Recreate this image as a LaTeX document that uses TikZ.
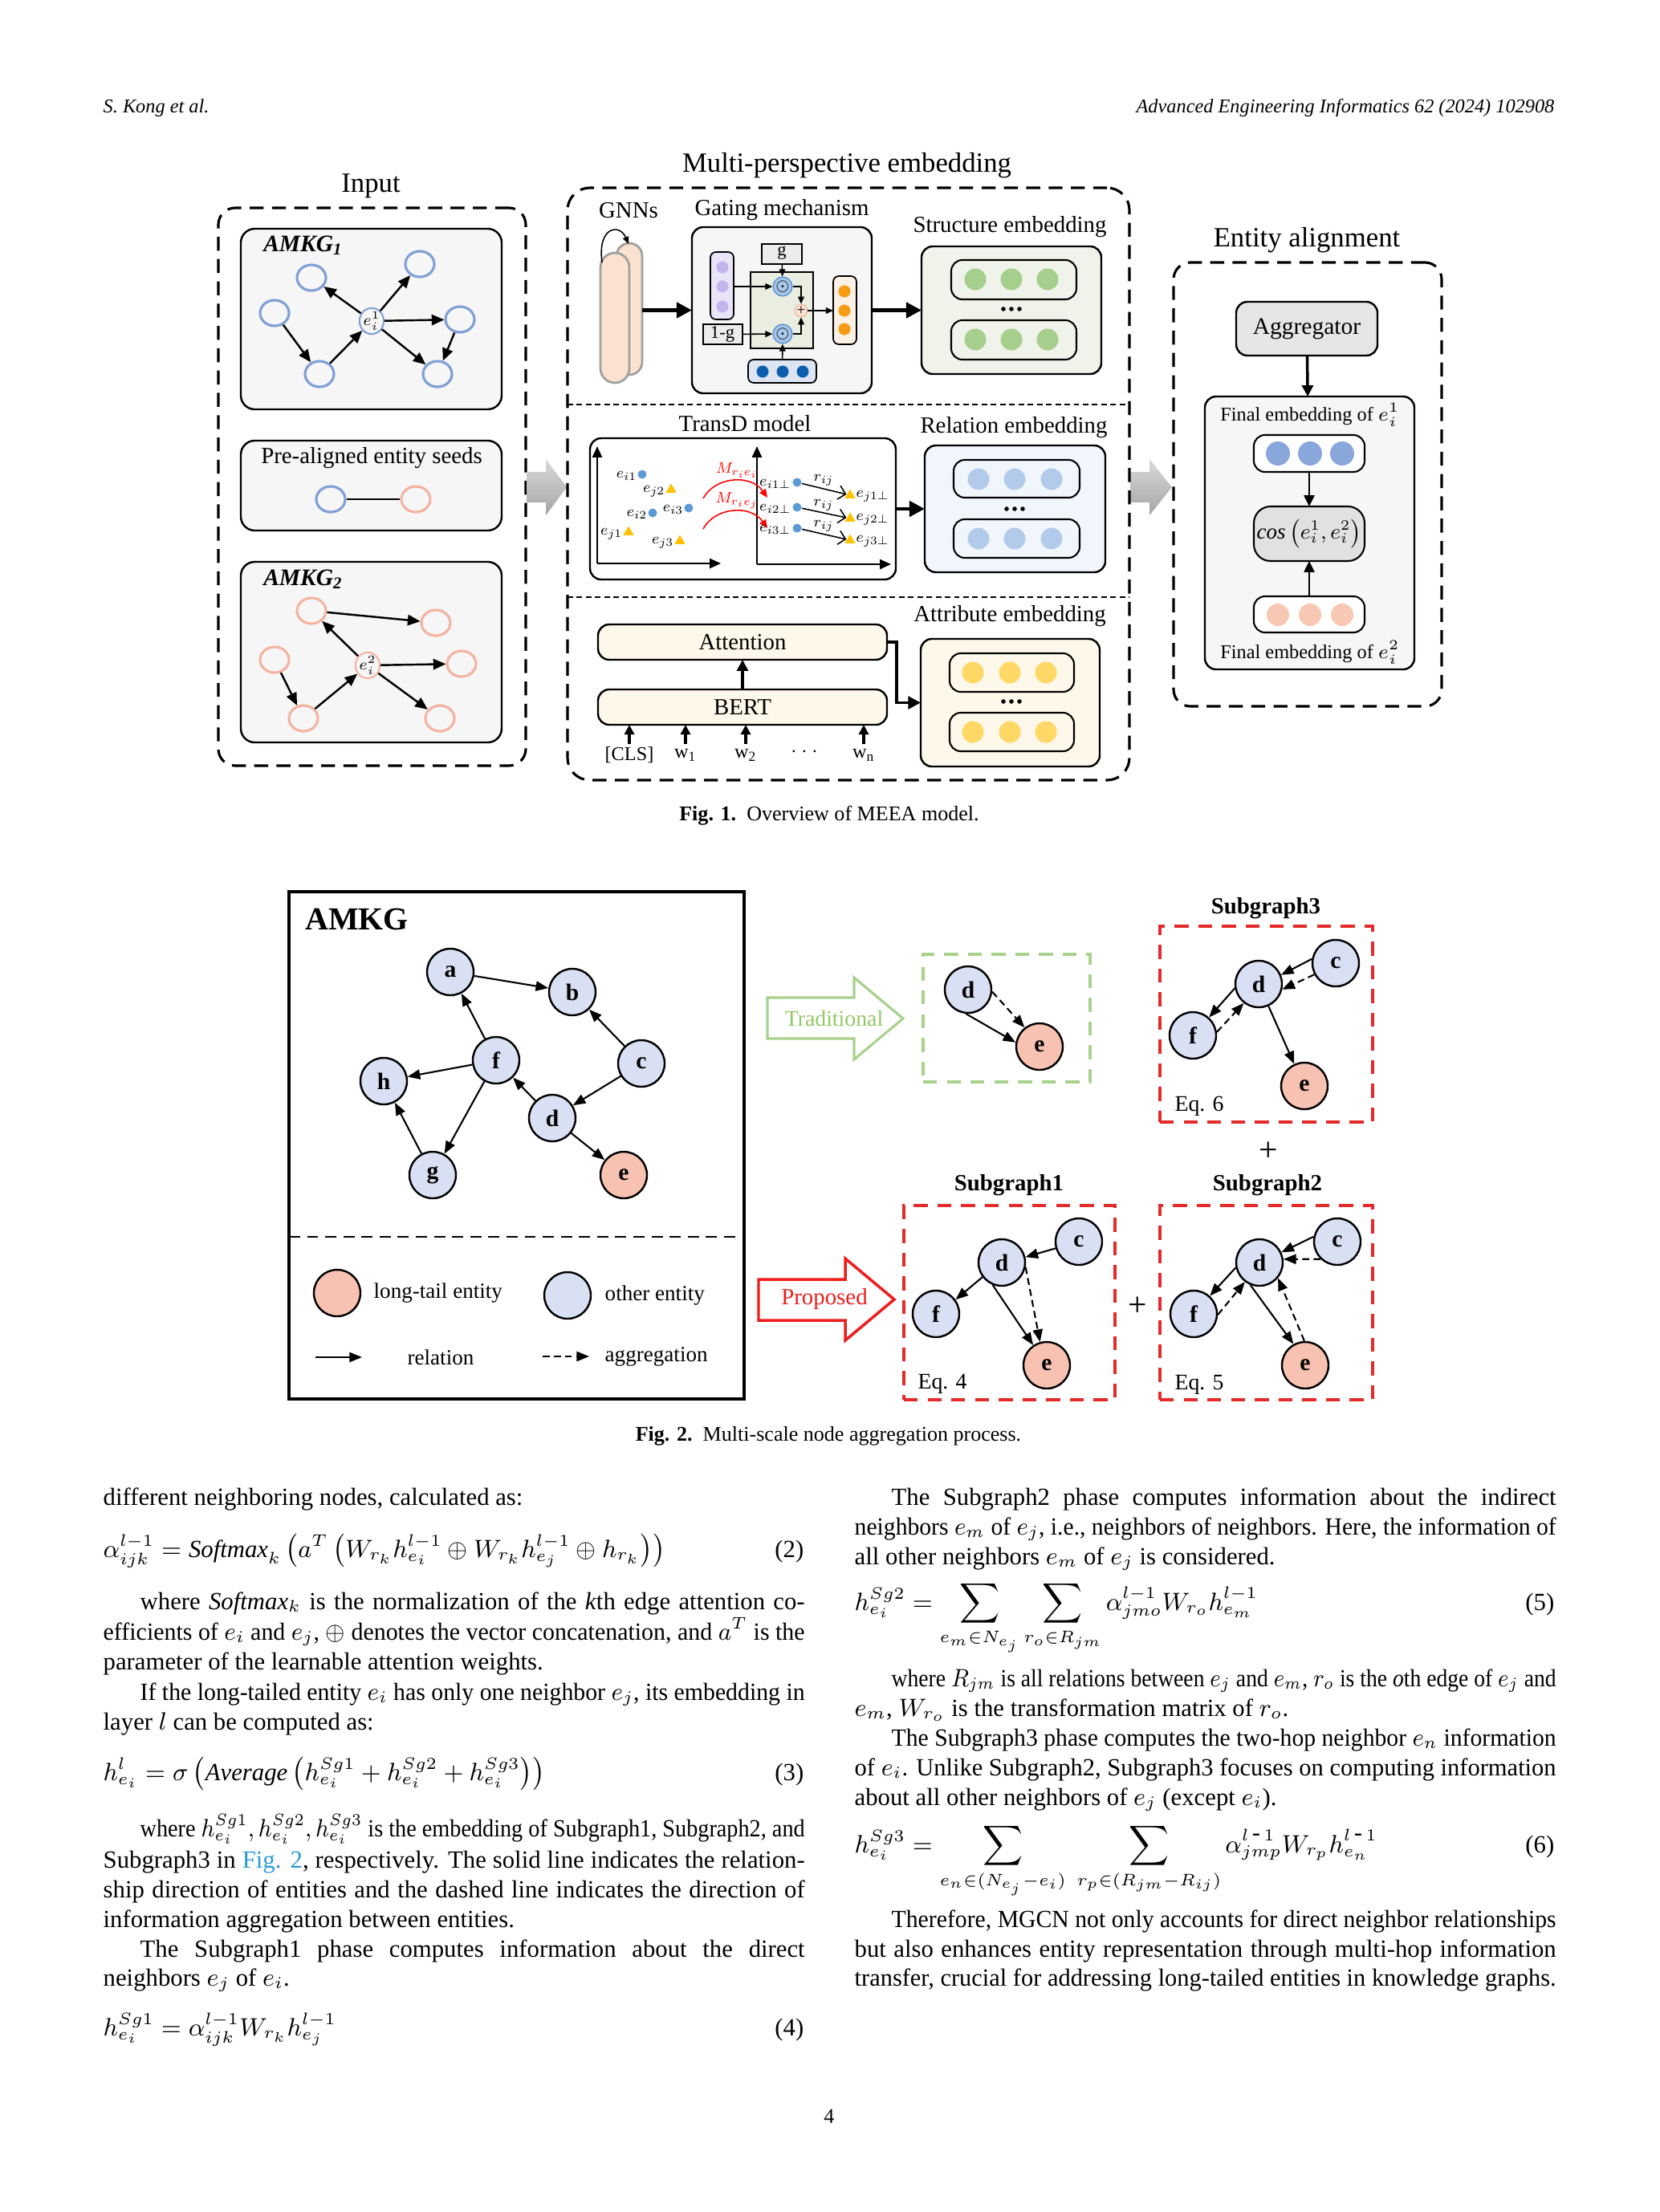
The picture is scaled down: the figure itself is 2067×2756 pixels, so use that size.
\documentclass[tikz,border=0pt]{standalone}
\usepackage{graphicx}
\usepackage{fontspec}
\setmainfont{Liberation Serif}
\usetikzlibrary{arrows.meta,shapes.geometric,fit,calc}
\newlength\px \setlength\px{0.28785pt}
\newlength\fullw \setlength\fullw{251.58pt}
\newlength\indw \setlength\indw{238.34pt}
\newcommand\bodyf{\fontsize{8.85}{10.7}\selectfont}
\newsavebox\jbox
\newcommand\jl[2]{\sbox\jbox{#2}\ifdim\wd\jbox>#1\resizebox{#1}{\height}{\usebox\jbox}\else\makebox[#1][s]{#2}\fi}
\newcommand\sm[1]{\scalebox{0.68}{#1}}
\definecolor{kgblue}{HTML}{7F9FD6}
\definecolor{kgpink}{HTML}{F4B3A1}
\definecolor{boxgray}{HTML}{F6F6F6}
\definecolor{peach}{HTML}{FBE2D0}
\definecolor{pillgray}{HTML}{A0A0A0}
\definecolor{lav}{HTML}{E9E4F7}
\definecolor{lavdot}{HTML}{C4B4EC}
\definecolor{ggray}{HTML}{ECECEC}
\definecolor{innergreen}{HTML}{E9EEE1}
\definecolor{odotfill}{HTML}{A7C7EA}
\definecolor{odotdraw}{HTML}{5B8FCF}
\definecolor{plusfill}{HTML}{FBE4D6}
\definecolor{plusdraw}{HTML}{F2B9A0}
\definecolor{bvecfill}{HTML}{DCE5F1}
\definecolor{bvecdot}{HTML}{0C5DAE}
\definecolor{ovecfill}{HTML}{FDF0E4}
\definecolor{ovecdot}{HTML}{F59B14}
\definecolor{structfill}{HTML}{EFF3EA}
\definecolor{greendot}{HTML}{A6CE8C}
\definecolor{relfill}{HTML}{F1F6FC}
\definecolor{reldot}{HTML}{B3CBEA}
\definecolor{attfill}{HTML}{FDF8E9}
\definecolor{yellowdot}{HTML}{FFD865}
\definecolor{transblue}{HTML}{5B9BD5}
\definecolor{transyel}{HTML}{FFC000}
\definecolor{aggfill}{HTML}{E6E6E6}
\definecolor{cosfill}{HTML}{E1E1E1}
\definecolor{finblue}{HTML}{8AA7DC}
\definecolor{finpink}{HTML}{F7C8B3}
\definecolor{nodeblue}{HTML}{D9E0F3}
\definecolor{nodepink}{HTML}{F8C2B2}
\definecolor{tradgreen}{HTML}{A9D18E}
\definecolor{tradtext}{HTML}{92C867}
\definecolor{propred}{HTML}{EE1C1C}
\definecolor{sgred}{HTML}{E52A2A}
\definecolor{linkblue}{HTML}{2A9BD8}
\tikzset{
  fitbox/.style={inner sep=0pt, outer sep=0pt},
  rbox/.style={fitbox, draw=black, line width=0.7pt, rounded corners=4pt},
  dashfr/.style={fitbox, draw=black, line width=0.9pt, dash pattern=on 5pt off 3pt, rounded corners=6pt},
  sepline/.style={line width=0.5pt, dash pattern=on 2pt off 1.3pt},
  arr/.style={-{Triangle[length=4.5pt,width=3.8pt]}, line width=0.7pt},
  bigarr/.style={-{Triangle[length=5.5pt,width=5.5pt]}, line width=1.3pt},
  midarr/.style={-{Triangle[length=4pt,width=4pt]}, line width=1pt},
  tarr/.style={-{Triangle[length=2.6pt,width=2.2pt]}, line width=0.45pt},
  kgb/.style={ellipse, draw=kgblue, line width=0.9pt, minimum width=36*\px, minimum height=32*\px, inner sep=0pt},
  kgp/.style={kgb, draw=kgpink},
  vdot/.style={circle, inner sep=0pt, minimum size=15*\px},
  edot/.style={circle, inner sep=0pt, minimum size=27*\px},
  title/.style={font=\fontsize{10}{12}\selectfont},
  sub/.style={font=\fontsize{8.3}{10}\selectfont},
  fn/.style={circle, draw=black, line width=0.7pt, fill=nodeblue, minimum size=58*\px, inner sep=0pt, font=\fontsize{8.5}{9}\selectfont\bfseries},
  fnp/.style={fn, fill=nodepink},
  farr/.style={-{Triangle[length=4.5pt,width=3.5pt]}, line width=0.6pt},
  fdash/.style={farr, dash pattern=on 2.5pt off 1.5pt},
  sgbox/.style={fitbox, draw=sgred, line width=1pt, dash pattern=on 5pt off 3.5pt},
  body/.style={anchor=base west, inner sep=0pt, font=\bodyf},
  eqn/.style={anchor=base east, inner sep=0pt, font=\bodyf},
  intext/.style={inner sep=0pt},
}
\newcommand\dotsrow[2]{\foreach \dx in {-10,0,10}{\fill ({#1+\dx},#2) circle[radius=0.8pt];}}
\begin{document}
\begin{tikzpicture}[x=0.28785pt,y=-0.28785pt]
\fill[white] (0,0) rectangle (2067,2756);
\useasboundingbox (0,0) rectangle (2067,2756);

% ---------- header ----------
\node[anchor=base west, inner sep=0pt, font=\fontsize{7}{8}\selectfont\itshape] (hl) at (128,140) {S. Kong et al.};
\node[anchor=base east, inner sep=0pt, font=\fontsize{7}{8}\selectfont\itshape] (hr) at (1937,140) {Advanced Engineering Informatics 62 (2024) 102908};

% ---------- Fig 1: Input ----------
\node[title] (tin) at (462,232) {Input};
\node[dashfr, fit={(272,259) (655,954)}] (inbox) {};
\node[rbox, fill=boxgray, rounded corners=5pt, fit={(300,285) (625,510)}] (kg1box) {};
\node[anchor=west, font=\fontsize{8.5}{10}\selectfont\bfseries\itshape] (kg1lab) at (316,306) {AMKG\textsubscript{1}};
\node[kgb] (a1) at (388,346) {};
\node[kgb] (a2) at (342,390) {};
\node[kgb] (a3) at (398,466) {};
\node[kgb, line width=0.6pt, minimum width=30*\px, minimum height=28*\px, font=\fontsize{7}{7}\selectfont] (ae) at (463,400) {\scalebox{0.8}{$e_i^1$}};
\node[kgb] (a4) at (523,329) {};
\node[kgb] (a5) at (573,398) {};
\node[kgb] (a6) at (545,466) {};
\draw[arr] (ae) -- (a1);
\draw[arr] (a2) -- (a3);
\draw[arr] (a3) -- (ae);
\draw[arr] (ae) -- (a4);
\draw[arr] (ae) -- (a5);
\draw[arr] (ae) -- (a6);
\draw[arr] (a5) -- (a6);

\node[rbox, fill=boxgray, rounded corners=5pt, fit={(300,549) (625,661)}] (pabox) {};
\node[sub] (patxt) at (463,571) {Pre-aligned entity seeds};
\node[kgb] (pa) at (412,622) {};
\node[kgp] (pb) at (518,622) {};
\draw[line width=0.7pt] (pa) -- (pb);

\node[rbox, fill=boxgray, rounded corners=5pt, fit={(300,700) (625,925)}] (kg2box) {};
\node[anchor=west, font=\fontsize{8.5}{10}\selectfont\bfseries\itshape] (kg2lab) at (316,722) {AMKG\textsubscript{2}};
\node[kgp] (b1) at (388,761) {};
\node[kgp] (b2) at (543,776) {};
\node[kgp] (b3) at (342,822) {};
\node[kgp, line width=0.6pt, minimum width=30*\px, minimum height=28*\px, font=\fontsize{7}{7}\selectfont] (be) at (458,829) {\scalebox{0.8}{$e_i^2$}};
\node[kgp] (b4) at (575,827) {};
\node[kgp] (b5) at (378,895) {};
\node[kgp] (b6) at (548,895) {};
\draw[arr] (b1) -- (b2);
\draw[arr] (be) -- (b1);
\draw[arr] (b3) -- (b5);
\draw[arr] (b5) -- (be);
\draw[arr] (be) -- (b4);
\draw[arr] (be) -- (b6);

% gray block arrows
\shade[top color=gray!30, bottom color=gray!70] (656,588) -- (680,588) -- (680,572) -- (706,607) -- (680,642) -- (680,626) -- (656,626) -- cycle;
\shade[top color=gray!30, bottom color=gray!70] (1408,588) -- (1432,588) -- (1432,572) -- (1460,607) -- (1432,642) -- (1432,626) -- (1408,626) -- cycle;

% ---------- Fig 1: Multi-perspective ----------
\node[title] (tmp) at (1055,206) {Multi-perspective embedding};
\node[dashfr, rounded corners=8pt, fit={(707,234) (1407,972)}] (mpbox) {};
\coordinate (s1l) at (707,504); \coordinate (s1r) at (1407,504);
\coordinate (s2l) at (707,744); \coordinate (s2r) at (1407,744);
\draw[sepline] (s1l) -- (s1r);
\draw[sepline] (s2l) -- (s2r);

\node[sub] (tgnn) at (783,262) {GNNs};
\node[sub] (tgate) at (974,262) {Gating mechanism};
\node[sub] (tstr) at (1258,283) {Structure embedding};

\node[fitbox, draw=pillgray, fill=peach, line width=0.8pt, rounded corners=4.6pt, fit={(768,303) (800,467)}] (pill2) {};
\node[fitbox, draw=pillgray, fill=peach, line width=0.8pt, rounded corners=5.2pt, fit={(748,315) (784,477)}] (pill1) {};
\coordinate (gl1) at (750,327); \coordinate (gl2) at (783,304);
\draw[tarr] (gl1) .. controls (744,282) and (772,278) .. (gl2);

\node[rbox, fill=boxgray, rounded corners=4pt, fit={(862,283) (1086,490)}] (gate) {};
\draw[bigarr] (pill2.east |- gate.west) -- (gate.west);
\node[fitbox, draw=black, line width=0.5pt, fill=lav, rounded corners=2pt, fit={(885,314) (914,398)}] (pvec) {};
\node[vdot, fill=lavdot] (pv1) at (900,333) {};
\node[vdot, fill=lavdot] (pv2) at (900,357) {};
\node[vdot, fill=lavdot] (pv3) at (900,382) {};
\node[fitbox, draw=black, line width=0.5pt, fill=ggray, fit={(949,304) (999,329)}] (gbox) {};
\node[intext, font=\fontsize{6.5}{7}\selectfont] at (974,315) {g};
\node[fitbox, draw=black, line width=0.4pt, fill=innergreen, fit={(935,339) (1013,434)}] (inner) {};
\node[fitbox, draw=black, line width=0.5pt, fill=ggray, fit={(876,404) (925,429)}] (omg) {};
\node[intext, font=\fontsize{6.5}{7}\selectfont] at (900,416) {1-g};
\node[circle, draw=odotdraw, fill=odotfill, line width=0.4pt, minimum size=12*\px, inner sep=0pt, font=\fontsize{5}{5}\selectfont] (od1) at (975,357) {$\odot$};
\node[circle, draw=odotdraw, fill=odotfill, line width=0.4pt, minimum size=12*\px, inner sep=0pt, font=\fontsize{5}{5}\selectfont] (od2) at (975,416) {$\odot$};
\node[circle, draw=plusdraw, fill=plusfill, line width=0.4pt, minimum size=13*\px, inner sep=0pt, font=\fontsize{5.5}{5}\selectfont] (plus) at (998,387) {+};
\node[fitbox, draw=black, line width=0.5pt, fill=bvecfill, rounded corners=2pt, fit={(932,448) (1017,477)}] (bvec) {};
\node[vdot, fill=bvecdot] (bv1) at (950,463) {};
\node[vdot, fill=bvecdot] (bv2) at (975,463) {};
\node[vdot, fill=bvecdot] (bv3) at (1000,463) {};
\node[fitbox, draw=black, line width=0.5pt, fill=ovecfill, rounded corners=2pt, fit={(1038,344) (1067,429)}] (ovec) {};
\node[vdot, fill=ovecdot] (ov1) at (1052,363) {};
\node[vdot, fill=ovecdot] (ov2) at (1052,387) {};
\node[vdot, fill=ovecdot] (ov3) at (1052,410) {};
\draw[tarr] (pvec.east |- od1) -- (od1);
\draw[tarr] (gbox) -- (od1);
\draw[tarr] (od1) -| (plus);
\draw[tarr] (omg) -- (od2);
\draw[tarr] (bvec) -- (od2);
\draw[tarr] (od2) -| (plus);
\draw[tarr] (plus) -- (ovec.west |- plus);

\node[rbox, fill=structfill, rounded corners=4pt, fit={(1148,307) (1372,466)}] (str) {};
\draw[bigarr] (gate.east) -- (str.west);
\node[rbox, fill=structfill, rounded corners=4pt, line width=0.6pt, fit={(1185,324) (1341,373)}] (str1) {};
\node[rbox, fill=structfill, rounded corners=4pt, line width=0.6pt, fit={(1185,399) (1341,448)}] (str2) {};
\foreach \cx in {1215,1260,1305}{
  \node[edot, fill=greendot] at (\cx,348) {};
  \node[edot, fill=greendot] at (\cx,423) {};
}
\dotsrow{1260}{385}

% TransD
\node[sub] (ttd) at (928,528) {TransD model};
\node[sub] (trel) at (1263,533) {Relation embedding};
\node[rbox, fill=white, rounded corners=4pt, fit={(735,546) (1116,722)}] (td) {};
\coordinate (O1) at (744,702); \coordinate (Y1) at (744,556); \coordinate (X1) at (898,702);
\coordinate (O2) at (943,703); \coordinate (Y2) at (943,556); \coordinate (X2) at (1110,703);
\draw[-{Triangle[length=4pt,width=3.5pt]}, line width=0.6pt] (O1) -- (Y1);
\draw[-{Triangle[length=4pt,width=3.5pt]}, line width=0.6pt] (O1) -- (X1);
\draw[-{Triangle[length=4pt,width=3.5pt]}, line width=0.6pt] (O2) -- (Y2);
\draw[-{Triangle[length=4pt,width=3.5pt]}, line width=0.6pt] (O2) -- (X2);
\tikzset{bd/.style={circle, fill=transblue, inner sep=0pt, minimum size=11*\px},
         yt/.style={regular polygon, regular polygon sides=3, fill=transyel, inner sep=0pt, minimum size=15*\px},
         tl/.style={inner sep=0pt, font=\fontsize{8}{8}\selectfont}}
\node[bd] (li1) at (800,591) {}; \node[tl, anchor=east] at (794,593) {\sm{$e_{i1}$}};
\node[yt] (lj2) at (836,610) {}; \node[tl, anchor=east] at (829,612) {\sm{$e_{j2}$}};
\node[bd] (li2) at (813,639) {}; \node[tl, anchor=east] at (807,641) {\sm{$e_{i2}$}};
\node[bd] (li3) at (858,633) {}; \node[tl, anchor=east] at (852,635) {\sm{$e_{i3}$}};
\node[yt] (lj1) at (783,663) {}; \node[tl, anchor=east] at (776,665) {\sm{$e_{j1}$}};
\node[yt] (lj3) at (847,674) {}; \node[tl, anchor=east] at (840,676) {\sm{$e_{j3}$}};
\coordinate (m1a) at (876,621); \coordinate (m1b) at (956,620);
\coordinate (m2a) at (876,659); \coordinate (m2b) at (956,658);
\draw[red, line width=0.45pt, -{Triangle[length=3pt,width=2.6pt]}] (m1a) .. controls (890,594) and (935,590) .. (m1b);
\draw[red, line width=0.45pt, -{Triangle[length=3pt,width=2.6pt]}] (m2a) .. controls (890,632) and (935,628) .. (m2b);
\node[tl, text=red] at (918,586) {\sm{$M_{r_ie_i}$}};
\node[tl, text=red] at (918,624) {\sm{$M_{r_ie_j}$}};
\foreach \k/\yy/\yt in {1/601/617, 2/632/646, 3/658/673}{
  \node[bd] (rd\k) at (993,\yy) {};
  \node[yt] (rt\k) at (1059,\yt) {};
  \draw[-{Straight Barb[length=2.5pt]}, line width=0.45pt] (rd\k) -- (rt\k);
  \node[tl, anchor=east] at (986,{\yy+2}) {\sm{$e_{i\k\perp}$}};
  \node[tl, anchor=west] at (1066,{\yt+1}) {\sm{$e_{j\k\perp}$}};
  \node[tl] at (1026,{\yy-3}) {\sm{$r_{ij}$}};
}
\node[rbox, fill=relfill, rounded corners=4pt, fit={(1152,555) (1377,713)}] (rel) {};
\draw[bigarr] (td.east |- rel.west) -- (rel.west);
\node[rbox, fill=relfill, rounded corners=4pt, line width=0.6pt, fit={(1188,573) (1345,620)}] (rel1) {};
\node[rbox, fill=relfill, rounded corners=4pt, line width=0.6pt, fit={(1188,647) (1345,695)}] (rel2) {};
\foreach \cx in {1219,1264,1310}{
  \node[edot, fill=reldot] at (\cx,597) {};
  \node[edot, fill=reldot] at (\cx,671) {};
}
\dotsrow{1264}{634}

% Attribute
\node[sub] (tatt) at (1258,768) {Attribute embedding};
\node[rbox, fill=attfill, rounded corners=4pt, fit={(745,778) (1105,822)}] (att) {};
\node[intext, font=\fontsize{8.3}{10}\selectfont] at (att.center) {Attention};
\node[rbox, fill=attfill, rounded corners=4pt, fit={(745,859) (1105,903)}] (bert) {};
\node[intext, font=\fontsize{8.3}{10}\selectfont] at (bert.center) {BERT};
\draw[midarr] (bert) -- (att);
\node[rbox, fill=attfill, rounded corners=4pt, fit={(1147,796) (1370,955)}] (attr) {};
\coordinate (atb) at (1117,800);
\draw[-{Triangle[length=4.5pt,width=4.5pt]}, line width=1pt] (att.east |- atb) -- (atb) |- (attr.west);
\node[rbox, fill=attfill, rounded corners=4pt, line width=0.6pt, fit={(1183,814) (1338,862)}] (attr1) {};
\node[rbox, fill=attfill, rounded corners=4pt, line width=0.6pt, fit={(1183,888) (1338,936)}] (attr2) {};
\foreach \cx in {1212,1258,1303}{
  \node[edot, fill=yellowdot] at (\cx,838) {};
  \node[edot, fill=yellowdot] at (\cx,912) {};
}
\dotsrow{1260}{874}
\tikzset{tok/.style={inner sep=0pt, font=\fontsize{7}{8}\selectfont}}
\node[tok] (tk1) at (784,941) {[CLS]};
\node[tok] (tk2) at (854,941) {w\textsubscript{1}};
\node[tok] (tk3) at (929,941) {w\textsubscript{2}};
\node[tok] (tk4) at (1002,937) {$\cdots$};
\node[tok] (tk5) at (1076,941) {w\textsubscript{n}};
\foreach \k/\xx in {1/784,2/854,3/929,5/1076}{
  \coordinate (tb\k) at (\xx,927);
  \draw[-{Triangle[length=3.5pt,width=3.5pt]}, line width=0.9pt] (tb\k) -- (bert.south -| tb\k);
}

% ---------- Fig 1: Entity alignment ----------
\node[title] (tea) at (1628,299) {Entity alignment};
\node[dashfr, fit={(1462,327) (1796,880)}] (eabox) {};
\node[rbox, fill=aggfill, rounded corners=4pt, fit={(1540,376) (1716,443)}] (agg) {};
\node[intext, font=\fontsize{8.5}{10}\selectfont] at (agg.center) {Aggregator};
\node[rbox, fill=boxgray, rounded corners=4pt, fit={(1501,494) (1762,834)}] (fin) {};
\draw[midarr] (agg) -- (fin);
\node[font=\fontsize{7}{8}\selectfont] (f1t) at (1632,517) {Final embedding of $e_i^1$};
\node[rbox, fill=white, rounded corners=4pt, line width=0.6pt, fit={(1562,542) (1700,588)}] (fv1) {};
\node[rbox, fill=cosfill, rounded corners=6pt, line width=0.6pt, fit={(1562,631) (1700,699)}] (cosb) {};
\node[intext, font=\fontsize{9}{10}\selectfont] at (cosb.center) {\scalebox{0.86}{$\mathit{cos}\left(e_i^1,e_i^2\right)$}};
\node[rbox, fill=white, rounded corners=4pt, line width=0.6pt, fit={(1562,743) (1700,788)}] (fv2) {};
\node[font=\fontsize{7}{8}\selectfont] (f2t) at (1632,813) {Final embedding of $e_i^2$};
\foreach \cx in {1592,1632,1672}{
  \node[circle, inner sep=0pt, minimum size=30*\px, fill=finblue] at (\cx,565) {};
  \node[circle, inner sep=0pt, minimum size=28*\px, fill=finpink] at (\cx,766) {};
}
\draw[-{Triangle[length=4pt,width=3.8pt]}, line width=0.5pt] (fv1) -- (cosb);
\draw[-{Triangle[length=4pt,width=3.8pt]}, line width=0.5pt] (fv2) -- (cosb);

\node[anchor=base, inner sep=0pt, font=\fontsize{7.5}{9}\selectfont] (cap1) at (1033,1022) {\textbf{Fig. 1.}\enspace Overview of MEEA model.};

% ---------- Fig 2 ----------
\node[fitbox, draw=black, line width=0.9pt, fit={(360,1111) (927,1743)}] (amkg) {};
\node[anchor=west, font=\fontsize{11.5}{13}\selectfont\bfseries] (amkgt) at (368,1145) {AMKG};
\node[fn] (na) at (561,1211) {a};
\node[fn] (nb) at (713,1236) {b};
\node[fn] (nc) at (799,1325) {c};
\node[fn] (nf) at (618,1321) {f};
\node[fn] (nh) at (478,1347) {h};
\node[fn] (nd) at (688,1393) {d};
\node[fn] (ng) at (539,1464) {g};
\node[fnp] (ne) at (777,1464) {e};
\draw[farr] (na) -- (nb);
\draw[farr] (nf) -- (na);
\draw[farr] (nc) -- (nb);
\draw[farr] (nc) -- (nd);
\draw[farr] (nd) -- (nf);
\draw[farr] (nf) -- (nh);
\draw[farr] (nf) -- (ng);
\draw[farr] (ng) -- (nh);
\draw[farr] (nd) -- (ne);
\coordinate (dvl) at (360,1541); \coordinate (dvr) at (927,1541);
\draw[line width=0.6pt, dash pattern=on 4pt off 2.5pt] (dvl) -- (dvr);
\tikzset{leg/.style={anchor=west, inner sep=0pt, font=\fontsize{7.8}{9}\selectfont}}
\node[fnp] (lgp) at (420,1611) {};
\node[leg] (lgpt) at (465,1611) {long-tail entity};
\node[fn] (lgb) at (707,1614) {};
\node[leg] (lgbt) at (753,1614) {other entity};
\coordinate (lr1) at (393,1691); \coordinate (lr2) at (451,1691);
\draw[farr] (lr1) -- (lr2);
\node[inner sep=0pt, font=\fontsize{7.8}{9}\selectfont] (lrt) at (549,1691) {relation};
\coordinate (la1) at (676,1690); \coordinate (la2) at (734,1690);
\draw[fdash] (la1) -- (la2);
\node[leg] (lat) at (753,1690) {aggregation};

% Traditional
\draw[tradgreen, line width=0.9pt, line join=miter] (956,1243) -- (1064,1243) -- (1064,1218) -- (1125,1269) -- (1064,1320) -- (1064,1294) -- (956,1294) -- cycle;
\node[text=tradtext, font=\fontsize{8}{9}\selectfont] (tradt) at (1039,1269) {Traditional};
\node[fitbox, draw=tradgreen, line width=0.9pt, dash pattern=on 5pt off 3.5pt, fit={(1150,1189) (1358,1348)}] (tradbox) {};
\node[fn] (td1) at (1206,1233) {d};
\node[fnp] (te1) at (1295,1304) {e};
\draw[farr] (td1.265) -- (te1.170);
\draw[fdash] (td1.355) -- (te1.128);

% Subgraph3
\node[font=\fontsize{8.3}{10}\selectfont\bfseries] (sg3t) at (1577,1132) {Subgraph3};
\node[sgbox, fit={(1445,1154) (1710,1398)}] (sg3) {};
\node[fn] (c3) at (1664,1200) {c};
\node[fn] (d3) at (1568,1226) {d};
\node[fn] (f3) at (1486,1290) {f};
\node[fnp] (e3) at (1625,1353) {e};
\draw[farr] (c3.170) -- (d3.22);
\draw[fdash] (c3.208) -- (d3.347);
\draw[farr] (d3.190) -- (f3.48);
\draw[fdash] (f3.8) -- (d3.232);
\draw[farr] (d3.294) -- (e3.115);
\node[font=\fontsize{8}{9}\selectfont] (eq6l) at (1494,1378) {Eq. 6};
\node[font=\fontsize{12}{12}\selectfont] (pl1) at (1580,1435) {+};

% Subgraph1
\node[font=\fontsize{8.3}{10}\selectfont\bfseries] (sg1t) at (1257,1477) {Subgraph1};
\node[sgbox, fit={(1126,1502) (1389,1744)}] (sg1) {};
\node[fn] (c1) at (1344,1547) {c};
\node[fn] (d1) at (1248,1573) {d};
\node[fn] (f1) at (1166,1637) {f};
\node[fnp] (e1) at (1304,1701) {e};
\draw[farr] (c1.196) -- (d1.13);
\draw[farr] (d1.217) -- (f1.36);
\draw[farr] (d1.248) -- (e1.124);
\draw[fdash] (d1.349) -- (e1.106);
\node[font=\fontsize{8}{9}\selectfont] (eq4l) at (1174,1724) {Eq. 4};
\node[font=\fontsize{12}{12}\selectfont] (pl2) at (1417,1628) {+};

% Subgraph2
\node[font=\fontsize{8.3}{10}\selectfont\bfseries] (sg2t) at (1579,1477) {Subgraph2};
\node[sgbox, fit={(1445,1502) (1710,1744)}] (sg2) {};
\node[fn] (c2) at (1666,1547) {c};
\node[fn] (d2) at (1569,1573) {d};
\node[fn] (f2) at (1487,1637) {f};
\node[fnp] (e2) at (1626,1701) {e};
\draw[farr] (c2.168) -- (d2.25);
\draw[fdash] (c2.226) -- (d2.8);
\draw[farr] (d2.192) -- (f2.48);
\draw[fdash] (f2.358) -- (d2.233);
\draw[farr] (d2.248) -- (e2.119);
\draw[fdash] (e2.92) -- (d2.320);
\node[font=\fontsize{8}{9}\selectfont] (eq5l) at (1494,1725) {Eq. 5};

% Proposed
\draw[propred, line width=1pt, line join=miter] (945,1594) -- (1053,1594) -- (1053,1568) -- (1114,1619) -- (1053,1670) -- (1053,1645) -- (945,1645) -- cycle;
\node[text=propred, font=\fontsize{8.3}{9}\selectfont] (propt) at (1027,1619) {Proposed};

\node[anchor=base, inner sep=0pt, font=\fontsize{7.5}{9}\selectfont] (cap2) at (1032,1795) {\textbf{Fig. 2.}\enspace Multi-scale node aggregation process.};

% ---------- body text, left column ----------
\node[body] (l1) at (128,1875) {different neighboring nodes, calculated as:};
\node[body] (eq2) at (128,1940) {$\alpha^{l-1}_{ijk}=\mathit{Softmax}_k\left(a^T\left(W_{r_k}h^{l-1}_{e_i}\oplus W_{r_k}h^{l-1}_{e_j}\oplus h_{r_k}\right)\right)$};
\node[eqn] (n2) at (1002,1940) {(2)};
\node[body] (l3) at (174,2005) {\jl{\indw}{where \textit{Softmax}$_k$ is the normalization of the \textit{k}th edge attention co-}};
\node[body] (l4) at (128,2043) {\jl{\fullw}{efficients of $e_i$ and $e_j$, $\oplus$ denotes the vector concatenation, and $a^T$ is the}};
\node[body] (l5) at (128,2080) {parameter of the learnable attention weights.};
\node[body] (l6) at (174,2118) {\jl{\indw}{If the long-tailed entity $e_i$ has only one neighbor $e_j$, its embedding in}};
\node[body] (l7) at (128,2155) {layer $l$ can be computed as:};
\node[body] (eq3) at (128,2218) {$h^l_{e_i}=\sigma\left(\mathit{Average}\left(h^{Sg1}_{e_i}+h^{Sg2}_{e_i}+h^{Sg3}_{e_i}\right)\right)$};
\node[eqn] (n3) at (1002,2218) {(3)};
\node[body] (l9) at (174,2288) {\jl{\indw}{where $h^{Sg1}_{e_i},h^{Sg2}_{e_i},h^{Sg3}_{e_i}$ is the embedding of Subgraph1, Subgraph2, and}};
\node[body] (l10) at (128,2327) {\jl{\fullw}{Subgraph3 in \textcolor{linkblue}{Fig. 2}, respectively. The solid line indicates the relation-}};
\node[body] (l11) at (128,2364) {\jl{\fullw}{ship direction of entities and the dashed line indicates the direction of}};
\node[body] (l12) at (128,2401) {information aggregation between entities.};
\node[body] (l13) at (174,2438) {\jl{\indw}{The Subgraph1 phase computes information about the direct}};
\node[body] (l14) at (128,2474) {neighbors $e_j$ of $e_i$.};
\node[body] (eq4) at (128,2536) {$h^{Sg1}_{e_i}=\alpha^{l-1}_{ijk}W_{r_k}h^{l-1}_{e_j}$};
\node[eqn] (n4) at (1002,2536) {(4)};

% ---------- body text, right column ----------
\node[body] (r1) at (1110,1875) {\jl{\indw}{The Subgraph2 phase computes information about the indirect}};
\node[body] (r2) at (1064,1912) {\jl{\fullw}{neighbors $e_m$ of $e_j$, i.e., neighbors of neighbors. Here, the information of}};
\node[body] (r3) at (1064,1949) {all other neighbors $e_m$ of $e_j$ is considered.};
\node[body] (eq5) at (1064,2006) {$h^{Sg2}_{e_i}=\displaystyle\sum_{e_m\in N_{e_j}}\sum_{r_o\in R_{jm}}\alpha^{l-1}_{jmo}W_{r_o}h^{l-1}_{e_m}$};
\node[eqn] (n5) at (1937,2006) {(5)};
\node[body] (r5) at (1110,2101) {\jl{\indw}{where $R_{jm}$ is all relations between $e_j$ and $e_m$, $r_o$ is the \textit{o}th edge of $e_j$ and}};
\node[body] (r6) at (1064,2138) {$e_m$, $W_{r_o}$ is the transformation matrix of $r_o$.};
\node[body] (r7) at (1110,2175) {\jl{\indw}{The Subgraph3 phase computes the two-hop neighbor $e_n$ information}};
\node[body] (r8) at (1064,2212) {\jl{\fullw}{of $e_i$. Unlike Subgraph2, Subgraph3 focuses on computing information}};
\node[body] (r9) at (1064,2249) {about all other neighbors of $e_j$ (except $e_i$).};
\node[body] (eq6) at (1064,2308) {$h^{Sg3}_{e_i}=\displaystyle\sum_{e_n\in(N_{e_j}-e_i)}\;\sum_{r_p\in(R_{jm}-R_{ij})}\alpha^{l\,\mbox{-}\,1}_{jmp}W_{r_p}h^{l\,\mbox{-}\,1}_{e_n}$};
\node[eqn] (n6) at (1937,2308) {(6)};
\node[body] (r11) at (1110,2401) {\jl{\indw}{Therefore, MGCN not only accounts for direct neighbor relationships}};
\node[body] (r12) at (1064,2438) {\jl{\fullw}{but also enhances entity representation through multi-hop information}};
\node[body] (r13) at (1064,2474) {\jl{\fullw}{transfer, crucial for addressing long-tailed entities in knowledge graphs.}};

\node[inner sep=0pt, font=\fontsize{7.5}{9}\selectfont] (pg) at (1033,2637) {4};
\end{tikzpicture}
\end{document}
